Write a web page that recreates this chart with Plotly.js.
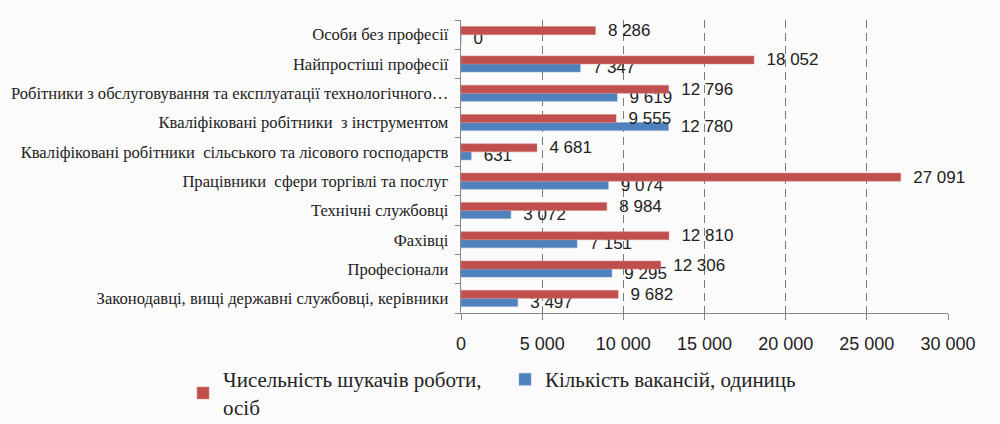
<!DOCTYPE html>
<html><head><meta charset="utf-8">
<script src="https://cdn.plot.ly/plotly-3.0.1.min.js"></script>
<style>html,body{margin:0;padding:0;background:#fbfbfb;}#chart{width:1000px;height:424px;}</style>
</head><body><div id="chart"></div>
<script>
const categories = [
  "Законодавці, вищі державні службовці, керівники",
  "Професіонали",
  "Фахівці",
  "Технічні службовці",
  "Працівники  сфери торгівлі та послуг",
  "Кваліфіковані робітники  сільського та лісового господарств",
  "Кваліфіковані робітники  з інструментом",
  "Робітники з обслуговування та експлуатації технологічного…",
  "Найпростіші професії",
  "Особи без професії"
];
const seekers = [9682, 12306, 12810, 8984, 27091, 4681, 9555, 12796, 18052, 8286];
const vacancies = [3497, 9295, 7151, 3072, 9074, 631, 12780, 9619, 7347, 0];
const seriesNames = ["Чисельність шукачів роботи,<br>осіб", "Кількість вакансій, одиниць"];
const xTicks = [0, 5000, 10000, 15000, 20000, 25000, 30000];

const SERIF = "Liberation Serif";
const SANS = "Liberation Sans";
const labelFont = {family: SANS, size: 17, color: "#222"};
const legendFont = {family: SERIF, size: 21, color: "#222"};
const traces = [
  {type: "bar", orientation: "h", y: categories, x: vacancies, name: seriesNames[1],
   marker: {color: "#4F81BD", line: {color: "#7FA3D3", width: 0.5}},
   text: vacancies, texttemplate: "\u00a0\u00a0%{x:,d}", textposition: "outside", textfont: labelFont,
   constraintext: "none", cliponaxis: false, legend: "legend2", hoverinfo: "none"},
  {type: "bar", orientation: "h", y: categories, x: seekers, name: seriesNames[0],
   marker: {color: "#C0504D", line: {color: "#D98583", width: 0.5}},
   text: seekers, texttemplate: "\u00a0\u00a0%{x:,d}", textposition: "outside", textfont: labelFont,
   constraintext: "none", cliponaxis: false, legend: "legend", hoverinfo: "none"}
];
const legendCommon = {orientation: "h", xref: "container", yref: "container",
  xanchor: "left", yanchor: "top", font: legendFont, itemwidth: 30,
  bgcolor: "rgba(0,0,0,0)"};
const layout = {
  width: 1000, height: 424,
  paper_bgcolor: "#fbfbfb", plot_bgcolor: "#fbfbfb",
  separators: ", ",
  margin: {l: 461, r: 52, t: 20, b: 111},
  barmode: "group", bargap: 0.45, bargroupgap: 0,
  showlegend: true,
  legend: Object.assign({}, legendCommon, {x: 0.183, y: 0.153}),
  legend2: Object.assign({}, legendCommon, {x: 0.505, y: 0.153}),
  xaxis: {range: [0, 30000], tickvals: xTicks, tickformat: ",d",
    showgrid: true, gridcolor: "#7a7a7a", griddash: "8px,5px", gridwidth: 1,
    zeroline: false, showline: true, linecolor: "#888", linewidth: 1,
    ticks: "outside", ticklen: 6, tickcolor: "#888", ticklabelstandoff: 8,
    tickfont: {family: SANS, size: 18, color: "#222"},
    fixedrange: true},
  yaxis: {type: "category", categoryorder: "array", categoryarray: categories,
    showline: true, linecolor: "#888", linewidth: 1,
    ticks: "outside", ticklen: 5, tickcolor: "#888", tickson: "boundaries",
    showgrid: false, ticksuffix: "  ",
    tickfont: {family: SERIF, size: 16.6, color: "#222"},
    fixedrange: true}
};
Plotly.newPlot("chart", traces, layout, {displayModeBar: false, staticPlot: true});
</script></body></html>
